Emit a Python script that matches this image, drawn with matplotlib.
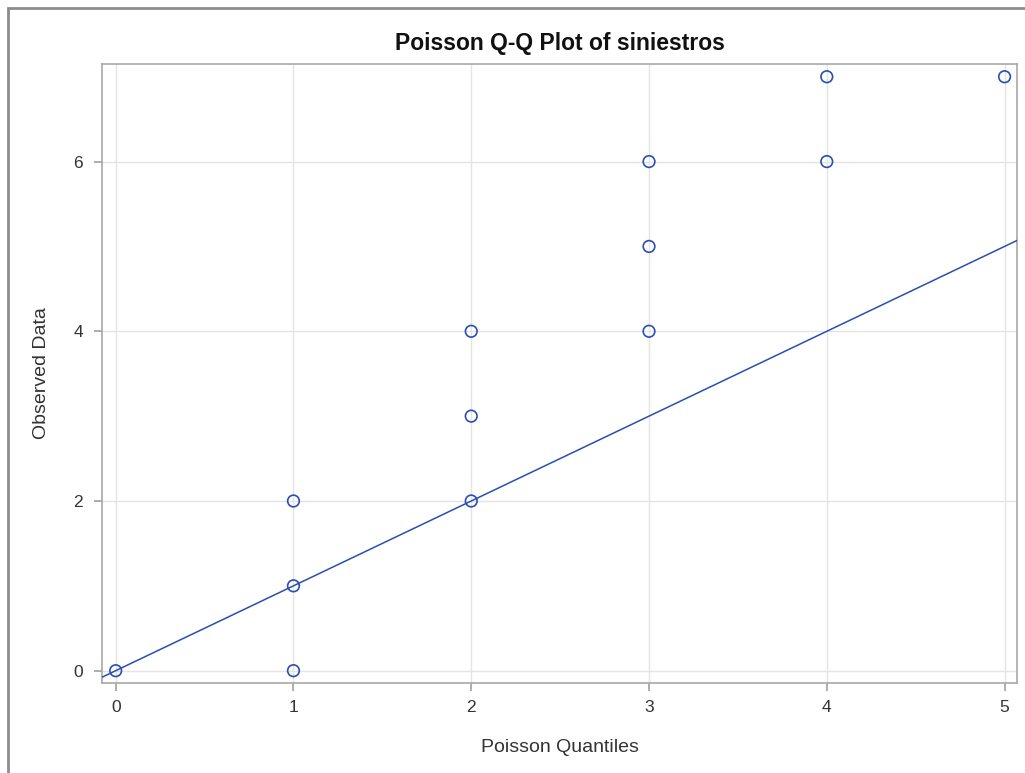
import matplotlib
matplotlib.use("Agg")
import matplotlib.pyplot as plt
from matplotlib.patches import Rectangle
import numpy as np

plt.rcParams['font.family'] = ['Liberation Sans', 'DejaVu Sans']

poisson_quantiles = [0, 1, 1, 1, 2, 2, 2, 3, 3, 3, 4, 4, 5]
observed_data = [0, 0, 1, 2, 2, 3, 4, 4, 5, 6, 6, 7, 7]
x_ticks = [0, 1, 2, 3, 4, 5]
y_ticks = [0, 2, 4, 6]
ref_slope = 1.0
ref_intercept = 0.0

blue = '#2a4fb0'
fig = plt.figure(figsize=(10.25, 7.73), dpi=100)
ax = fig.add_axes([102/1025, 1 - 683/773, (1017-102)/1025, (683-64)/773])

xlim = (-0.077, 5.07)
ylim = (-0.145, 7.15)
xs = np.array(xlim)
ax.plot(xs, ref_intercept + ref_slope * xs, color=blue, lw=1.1, zorder=3)
ax.scatter(poisson_quantiles, observed_data, s=70, facecolors='none',
           edgecolors=blue, linewidths=1.2, zorder=4)

ax.set_xlim(*xlim)
ax.set_ylim(*ylim)
ax.set_xticks(x_ticks)
ax.set_yticks(y_ticks)
ax.grid(True, color='#e4e4e4', lw=1)
ax.set_axisbelow(True)
for s in ax.spines.values():
    s.set_color('#a8a8a8')
    s.set_linewidth(1.2)
ax.tick_params(colors='#a0a0a0', labelcolor='#333333', labelsize=12.5, length=5.5, width=1.2)
ax.tick_params(axis='x', pad=7)
ax.tick_params(axis='y', pad=8)
ax.set_xlabel('Poisson Quantiles', fontsize=14, color='#333333', labelpad=17)
ax.set_ylabel('Observed Data', fontsize=14, color='#333333', labelpad=17)
ax.set_title('Poisson Q-Q Plot of siniestros', fontsize=16.5, fontweight='bold', color='#111111', pad=10)

fig.patches.append(Rectangle((8/1025, -0.1), 1.2, (773-8)/773 + 0.1, transform=fig.transFigure,
                             fill=False, edgecolor='#8c8c8c', lw=2, zorder=0))

fig.savefig('out.png', dpi=100)
